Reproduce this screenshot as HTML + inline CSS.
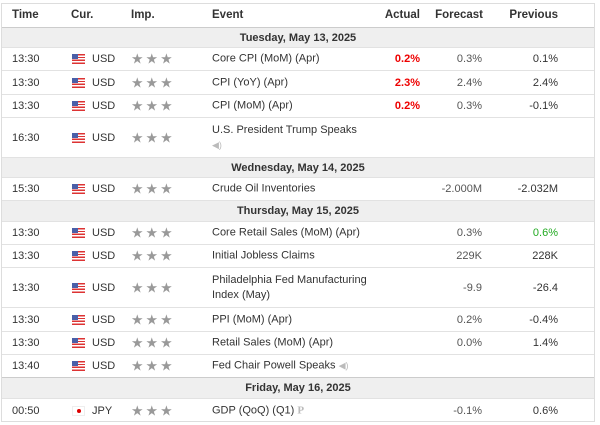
<!DOCTYPE html>
<html><head><meta charset="utf-8"><style>
*{margin:0;padding:0;box-sizing:border-box}
body{width:600px;height:425px;background:#fff;font-family:"Liberation Sans",Arial,sans-serif;font-size:11px;color:#333;position:relative;overflow:hidden}
#tbl{position:absolute;left:1px;top:3px;width:594px;height:419px;border:1px solid #ddd}
.r{position:absolute;left:0;width:592px;border-bottom:1px solid #e2e2e2}
.c{position:absolute;top:50%;transform:translateY(-50%);white-space:nowrap}
.hd{font-weight:bold;color:#333;font-size:11.5px}
.date{background:#efefef;text-align:center;font-weight:bold;color:#333}
.date .c{left:0;width:592px;text-align:center}
.t{left:10px}.fl{left:70px;width:13px;height:10px}
.cur{left:90px}.st{left:129px;color:#999;font-size:14px;letter-spacing:2px}
.ev{left:210px;line-height:15px}
.ac{right:174px;text-align:right;color:#e00;font-weight:bold}
.fc{right:112px;text-align:right;color:#555}
.pv{right:36px;text-align:right;color:#333}
.us{background:repeating-linear-gradient(#d33 0 1.4px,#fff 1.4px 2.8px);}
.us::before{content:"";position:absolute;left:0;top:0;width:6px;height:5px;background:#4a5fa8}
.jp{background:#fff;border:1px solid #eee}
.jp::before{content:"";position:absolute;left:3.5px;top:2.5px;width:4px;height:4px;border-radius:50%;background:#d00}
.spk{color:#bbb;font-size:9px}
</style></head><body>
<div id="tbl">
<div class="r" style="top:-1px;height:25px;border-bottom:1px solid #ccc">
<span class="c hd" style="left:10px">Time</span><span class="c hd" style="left:69px">Cur.</span><span class="c hd" style="left:129px">Imp.</span><span class="c hd" style="left:210px">Event</span><span class="c hd ac" style="color:#333">Actual</span><span class="c hd" style="right:111px">Forecast</span><span class="c hd" style="right:36px">Previous</span></div>
<div class="r date" style="top:24px;height:20px"><span class="c">Tuesday, May 13, 2025</span></div>
<div class="r" style="top:44px;height:23px"><span class="c t">13:30</span><span class="c fl us"></span><span class="c cur">USD</span><span class="c st">★★★</span><span class="c ev">Core CPI (MoM) (Apr)</span><span class="c ac">0.2%</span><span class="c fc">0.3%</span><span class="c pv">0.1%</span></div>
<div class="r" style="top:67px;height:24px"><span class="c t">13:30</span><span class="c fl us"></span><span class="c cur">USD</span><span class="c st">★★★</span><span class="c ev">CPI (YoY) (Apr)</span><span class="c ac">2.3%</span><span class="c fc">2.4%</span><span class="c pv">2.4%</span></div>
<div class="r" style="top:91px;height:23px"><span class="c t">13:30</span><span class="c fl us"></span><span class="c cur">USD</span><span class="c st">★★★</span><span class="c ev">CPI (MoM) (Apr)</span><span class="c ac">0.2%</span><span class="c fc">0.3%</span><span class="c pv">-0.1%</span></div>
<div class="r" style="top:114px;height:40px"><span class="c t">16:30</span><span class="c fl us"></span><span class="c cur">USD</span><span class="c st">★★★</span><span class="c ev">U.S. President Trump Speaks<br><span class="spk">◀)</span></span></div>
<div class="r date" style="top:154px;height:20px"><span class="c">Wednesday, May 14, 2025</span></div>
<div class="r" style="top:174px;height:23px"><span class="c t">15:30</span><span class="c fl us"></span><span class="c cur">USD</span><span class="c st">★★★</span><span class="c ev">Crude Oil Inventories</span><span class="c fc">-2.000M</span><span class="c pv">-2.032M</span></div>
<div class="r date" style="top:197px;height:21px"><span class="c">Thursday, May 15, 2025</span></div>
<div class="r" style="top:218px;height:23px"><span class="c t">13:30</span><span class="c fl us"></span><span class="c cur">USD</span><span class="c st">★★★</span><span class="c ev">Core Retail Sales (MoM) (Apr)</span><span class="c fc">0.3%</span><span class="c pv" style="color:#2a2">0.6%</span></div>
<div class="r" style="top:241px;height:23px"><span class="c t">13:30</span><span class="c fl us"></span><span class="c cur">USD</span><span class="c st">★★★</span><span class="c ev">Initial Jobless Claims</span><span class="c fc">229K</span><span class="c pv">228K</span></div>
<div class="r" style="top:264px;height:40px"><span class="c t">13:30</span><span class="c fl us"></span><span class="c cur">USD</span><span class="c st">★★★</span><span class="c ev">Philadelphia Fed Manufacturing<br>Index (May)</span><span class="c fc">-9.9</span><span class="c pv">-26.4</span></div>
<div class="r" style="top:304px;height:24px"><span class="c t">13:30</span><span class="c fl us"></span><span class="c cur">USD</span><span class="c st">★★★</span><span class="c ev">PPI (MoM) (Apr)</span><span class="c fc">0.2%</span><span class="c pv">-0.4%</span></div>
<div class="r" style="top:328px;height:23px"><span class="c t">13:30</span><span class="c fl us"></span><span class="c cur">USD</span><span class="c st">★★★</span><span class="c ev">Retail Sales (MoM) (Apr)</span><span class="c fc">0.0%</span><span class="c pv">1.4%</span></div>
<div class="r" style="top:351px;height:23px;border-bottom:1px solid #ccc"><span class="c t">13:40</span><span class="c fl us"></span><span class="c cur">USD</span><span class="c st">★★★</span><span class="c ev">Fed Chair Powell Speaks <span class="spk">◀)</span></span></div>
<div class="r date" style="top:374px;height:21px"><span class="c">Friday, May 16, 2025</span></div>
<div class="r" style="top:395px;height:23px;border-bottom:none"><span class="c t">00:50</span><span class="c fl jp"></span><span class="c cur">JPY</span><span class="c st">★★★</span><span class="c ev">GDP (QoQ) (Q1) <b style="color:#bbb;font-family:'Liberation Serif',serif">P</b></span><span class="c fc">-0.1%</span><span class="c pv">0.6%</span></div>
</div>
</body></html>
